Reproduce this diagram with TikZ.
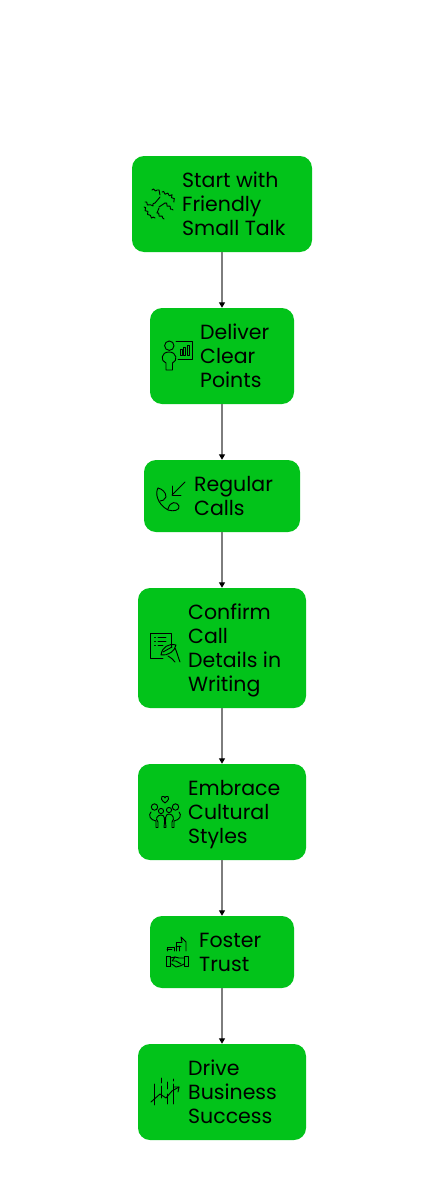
\documentclass[tikz,border=0pt]{standalone}
\usepackage{fontspec}
\setmainfont{Poppins}
\usetikzlibrary{arrows.meta,decorations.pathmorphing}
\definecolor{boxgreen}{RGB}{2,195,26}
\definecolor{linkgray}{RGB}{125,125,125}
\tikzset{
 box/.style={draw=none,fill=boxgreen,rounded corners=12pt,inner sep=0pt,minimum width=#1},
 label/.style={anchor=west,align=left,inner sep=0pt,font=\fontsize{20.5}{24}\selectfont,text=black},
 link/.style={draw=linkgray,line width=1.3pt,-{Triangle[black,length=5.5pt,width=6pt]}},
 icon/.style={draw=black,line width=.9pt,line join=round,line cap=round},
 wavy/.style={icon,decorate,decoration={snake,amplitude=1pt,segment length=4.5pt}}
}
\begin{document}
\begin{tikzpicture}[x=1pt,y=-1pt]
\useasboundingbox[fill=white] (0,0) rectangle (444,1188);
\node[box=180pt,minimum height=96pt] (b1) at (222,204) {};
\node[box=144pt,minimum height=96pt] (b2) at (222,356) {};
\node[box=156pt,minimum height=72pt] (b3) at (222,496) {};
\node[box=168pt,minimum height=120pt] (b4) at (222,648) {};
\node[box=168pt,minimum height=96pt] (b5) at (222,812) {};
\node[box=144pt,minimum height=72pt] (b6) at (222,952) {};
\node[box=168pt,minimum height=96pt] (b7) at (222,1092) {};
\draw[link] (b1.south) -- (b2.north);
\draw[link] (b2.south) -- (b3.north);
\draw[link] (b3.south) -- (b4.north);
\draw[link] (b4.south) -- (b5.north);
\draw[link] (b5.south) -- (b6.north);
\draw[link] (b6.south) -- (b7.north);
\node[label] (t1) at (182,204) {Start with\\Friendly\\Small Talk};
\node[label] (t2) at (200,356) {Deliver\\Clear\\Points};
\node[label] (t3) at (194,496) {Regular\\Calls};
\node[label] (t4) at (188,650) {Confirm\\Call\\Details in\\Writing};
\node[label] (t5) at (188,815) {Embrace\\Cultural\\Styles};
\node[label] (t6) at (199,952) {Foster\\Trust};
\node[label] (t7) at (188,1092) {Drive\\Business\\Success};
% icon 1: clasped hands
\draw[wavy] (152,190) -- (159,190);
\draw[icon] (159,190) -- (160,195);
\draw[wavy] (145,202) -- (149,205) -- (155,203);
\draw[icon] (155,203) -- (160,197);
\draw[wavy] (162,192) -- (170,195) -- (174,202);
\draw[icon] (159,207) -- (165,203);
\draw[wavy] (165,203) -- (173,210);
\draw[wavy] (144,207) -- (149,215) -- (155,218);
\draw[icon] (159,208) -- (157,213);
\draw[wavy] (157,213) -- (164,219);
% icon 2: presenter
\draw[icon] (169.3,345.7) circle (4.7);
\draw[icon] (166,370) -- (166,363) .. controls (160,361) and (161,352) .. (169,352) .. controls (177,352) and (178,361) .. (172.500,363) -- (172.500,370) -- cycle;
\draw[icon] (176,341) -- (192,341) -- (192,359) -- (178,359);
\draw[icon] (180,355) rectangle (182,349);
\draw[icon] (183.500,355) rectangle (185.500,347);
\draw[icon] (187,355) rectangle (189,345);
% icon 3: incoming call
\draw[icon] (185,482) -- (172,495);
\draw[icon] (172,486) -- (172,495) -- (181,495);
\draw[icon] (158,488) .. controls (155,493) and (157,504) .. (168,510) .. controls (174,512) and (180,510) .. (179,506) .. controls (177,501) and (170,501) .. (168,509);
\draw[icon] (158,488) .. controls (162,489) and (166,492) .. (166,497) .. controls (165,500) and (162,501) .. (160,501);
% icon 4: written notes
\draw[icon] (171,647) -- (171,633) -- (150,633) -- (150,658) -- (163,658);
\draw[icon] (158,637) -- (166,637) (158,641) -- (166,641) (158,645) -- (163,645);
\draw[icon] (154.500,637) -- (155.500,637) (154.500,641) -- (155.500,641) (154.500,645) -- (155.500,645);
\draw[icon] (161,655) .. controls (162,647) and (169,643) .. (176,645) .. controls (175,651) and (168,656) .. (161,655) -- cycle;
\draw[icon] (163,652) -- (172,647);
\draw[icon] (175,648) .. controls (177,652) and (178,657) .. (180,662);
\draw[icon] (168,656) .. controls (171,658) and (173,659) .. (175,662);
% icon 5: family
\draw[icon] (165,803) .. controls (161,800) and (160.500,797.500) .. (162,796.500) .. controls (163.500,795.500) and (165,797) .. (165,798) .. controls (165,797) and (166.500,795.500) .. (168,796.500) .. controls (169.500,797.500) and (169,800) .. (165,803) -- cycle;
\draw[icon] (154.500,807) circle (3.2);
\draw[icon] (175.500,807) circle (3.2);
\draw[icon] (161,811) circle (2.600);
\draw[icon] (169,810) circle (2.600);
\draw[icon] (156,827) -- (156,821) .. controls (150,820) and (148,815) .. (151,812);
\draw[icon] (174,827) -- (174,821) .. controls (180,820) and (182,815) .. (179,812);
\draw[icon] (158,827) -- (158,822) .. controls (155,819) and (157,815) .. (161,815) .. controls (165,815) and (165,819) .. (164,827);
\draw[icon] (166,827) .. controls (165,819) and (165,814) .. (169,814) .. controls (173,814) and (175,819) .. (172,822) -- (172,827);
\draw[icon] (156,827) -- (158,827) (172,827) -- (174,827) (164,827) -- (166,827);
% icon 6: handshake with buildings
\draw[icon] (167,951) -- (167,947) -- (174,947) -- (174,951);
\draw[icon] (167,949) -- (172,949);
\draw[icon] (176,951) -- (176,942) -- (182,942);
\draw[icon] (176,946) -- (181,946);
\draw[icon] (179,951) -- (179,946);
\draw[icon] (182,942) -- (181,937) -- (186,942) -- (186,951);
\draw[icon] (166,956) rectangle (170,966);
\draw[icon] (184,956) rectangle (188,966);
\draw[icon] (170,958) -- (175,957) -- (179,958) -- (184,958);
\draw[icon] (170,964) -- (172,964) -- (176,967) -- (180,966) -- (184,964);
\draw[icon] (175,957) -- (172,961) -- (176,961) -- (181,964);
% icon 7: growth chart
\draw[icon] (154,1084) -- (154,1105);
\draw[icon] (161,1078) -- (161,1083) (161,1086) -- (161,1098);
\draw[icon] (167,1082) -- (167,1089) (167,1094) -- (167,1104);
\draw[icon] (173,1079) -- (173,1081) (173,1084) -- (173,1104);
\draw[icon] (151,1102) -- (160,1094) -- (166,1098) -- (172,1091) -- (179,1087);
\draw[icon] (174,1087) -- (179,1087) -- (178,1092);
\end{tikzpicture}
\end{document}
